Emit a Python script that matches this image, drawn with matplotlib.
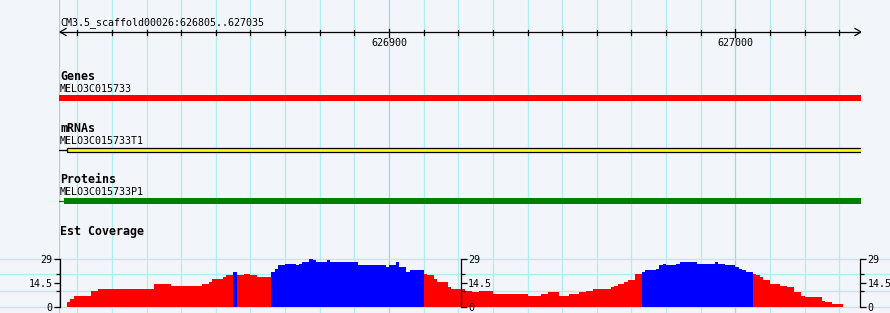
import numpy as np
import matplotlib
matplotlib.use('Agg')
import matplotlib.pyplot as plt
from matplotlib.lines import Line2D
from matplotlib.transforms import blended_transform_factory

ref_name = 'CM3.5_scaffold00026'
view_start = 626805
view_end = 627035
major_ticks = [626900, 627000]

gene_name = 'MELO3C015733'
gene_start, gene_end = 626700, 627100
mrna_name = 'MELO3C015733T1'
mrna_start, mrna_exon_start, mrna_end = 626700, 626807, 627100
protein_name = 'MELO3C015733P1'
protein_start, protein_cds_start, protein_end = 626700, 626806, 627100

# Est coverage: step starts (bp) and depth
cov_starts = [626807, 626808, 626809, 626814, 626816, 626832, 626837, 626846, 626848, 626849,
              626852, 626853, 626855, 626856, 626858, 626860, 626862, 626866, 626867, 626868,
              626870, 626873, 626874, 626875, 626877, 626878, 626879, 626882, 626883, 626891,
              626899, 626900, 626902, 626903, 626905, 626906, 626910, 626911, 626913, 626914,
              626917, 626918, 626922, 626924, 626926, 626930, 626940, 626944, 626946, 626949,
              626952, 626955, 626957, 626959, 626964, 626965, 626966, 626968, 626969, 626971,
              626973, 626974, 626977, 626978, 626979, 626980, 626983, 626984, 626989, 626994,
              626995, 626997, 627000, 627001, 627002, 627003, 627005, 627006, 627007, 627008,
              627010, 627013, 627015, 627017, 627019, 627020, 627025, 627026, 627028]
cov_values = [3, 5, 7, 10, 11, 14, 13, 14, 15, 17,
              18, 19, 21, 19, 20, 19, 18, 21, 23, 25,
              26, 25, 26, 27, 29, 28, 27, 28, 27, 25,
              24, 25, 27, 24, 21, 22, 20, 19, 17, 15,
              12, 11, 10, 9, 10, 8, 7, 8, 9, 7,
              8, 9, 10, 11, 12, 13, 14, 15, 16, 20,
              21, 22, 23, 25, 26, 25, 26, 27, 26, 27,
              26, 25, 24, 23, 22, 21, 20, 19, 18, 16,
              14, 13, 12, 9, 7, 6, 4, 3, 2]
cov_end = 627031
cov_max = 29
cov_ticks = [0, 14.5, 29]
cov_minor = [10, 20]

bg = '#f2f5fa'
grid_c = '#afeeee'
major_c = '#a4d4e8'
mono = 'DejaVu Sans Mono'
small = 7.2
bold = 8.4

W, H = 890, 313
fig = plt.figure(figsize=(W/100, H/100), dpi=100, facecolor=bg)

# main panel: x in bp, y in pixel rows
ax = fig.add_axes([59/W, 0, 802/W, 1])
ax.set_facecolor('none')
ax.set_xlim(view_start - 0.3, view_end + 1.3)
ax.set_ylim(H, 0)
ax.axis('off')
bp = 802 / (view_end + 1.6 - view_start)  # pixels per bp

ax.axvline(view_start - 0.3, color=major_c, lw=0.9, zorder=0)
for p in range(view_start + 5, view_end, 10):
  ax.axvline(p, color=major_c if p in major_ticks else grid_c, lw=0.9, zorder=0)

# ruler
x0, x1 = view_start, view_end + 1.3
a = 6 / bp
ax.plot([x0, x1], [32, 32], color='k', lw=0.9)
ax.plot([x0 + a, x0, x0 + a], [28.5, 32, 35.5], color='k', lw=0.9)
ax.plot([x1 - a, x1, x1 - a], [28.5, 32, 35.5], color='k', lw=0.9)
for p in range(view_start + 5, view_end, 10):
  if p in major_ticks:
    ax.plot([p, p], [28.5, 37], color='k', lw=0.9)
    ax.text(p, 45.7, str(p), ha='center', va='baseline', fontsize=small, family=mono)
  else:
    ax.plot([p, p], [30, 35], color='k', lw=0.9)
ax.text(view_start, 25.3, f'{ref_name}:{view_start}..{view_end}', va='baseline',
        fontsize=small, family=mono)

# tracks
ax.text(view_start, 80, 'Genes', va='baseline', fontsize=bold, family=mono, weight='bold')
ax.text(view_start, 92, gene_name, va='baseline', fontsize=small, family=mono)
ax.barh(98, gene_end - gene_start, left=gene_start, height=6, color='#ff0000', zorder=2)

ax.text(view_start, 132, 'mRNAs', va='baseline', fontsize=bold, family=mono, weight='bold')
ax.text(view_start, 144, mrna_name, va='baseline', fontsize=small, family=mono)
ax.plot([mrna_start, mrna_exon_start], [149.5, 149.5], color='k', lw=0.9, zorder=2)
ax.barh(149.5, mrna_end - mrna_exon_start, left=mrna_exon_start, height=4,
        color='#ffff00', edgecolor='k', lw=0.9, zorder=2)

ax.text(view_start, 183, 'Proteins', va='baseline', fontsize=bold, family=mono, weight='bold')
ax.text(view_start, 195, protein_name, va='baseline', fontsize=small, family=mono)
ax.plot([protein_start, protein_cds_start], [200.5, 200.5], color='#008000', lw=0.9, zorder=2)
ax.barh(201, protein_end - protein_cds_start, left=protein_cds_start, height=6,
        color='#008000', zorder=2)

ax.text(view_start, 235.3, 'Est Coverage', va='baseline', fontsize=bold, family=mono, weight='bold')

# coverage plot
cb, ch = (H - 307.3) / H, 48.6 / H
cax = fig.add_axes([59/W, cb, 802/W, ch])
cax.set_facecolor('none')
cax.set_xlim(ax.get_xlim())
cax.set_ylim(0, cov_max)
cax.axis('off')
tr = blended_transform_factory(fig.transFigure, cax.transData)
for v in [0] + cov_minor + [cov_max]:
  ln = Line2D([0, 1], [v, v], transform=tr, color=grid_c, lw=0.9, zorder=0, clip_on=False)
  cax.add_line(ln)
widths = np.diff(cov_starts + [cov_end])
colors = ['#0000ff' if v > 20 else '#ff0000' for v in cov_values]
cax.bar(cov_starts, cov_values, width=widths, align='edge', color=colors, lw=0, zorder=2)

def y_axis(xpix, side):
  ya = fig.add_axes([xpix / W, cb, 1e-4, ch])
  ya.set_facecolor('none')
  ya.set_ylim(0, cov_max)
  ya.set_xticks([])
  for s in ya.spines:
    ya.spines[s].set_visible(s == side)
  ya.spines[side].set_linewidth(0.9)
  ya.yaxis.set_ticks_position(side)
  ya.set_yticks(cov_ticks)
  ya.set_yticklabels(['0', '14.5', '29'], family=mono, fontsize=small)
  ya.set_yticks(cov_minor, minor=True)
  ya.tick_params(which='both', direction='out', width=0.9, pad=1.5)
  ya.tick_params(which='major', length=4)
  ya.tick_params(which='minor', length=3)

y_axis(60, 'left')
y_axis(460.5, 'right')
y_axis(860, 'right')

plt.savefig('out.png', dpi=100, facecolor=bg)
plt.close()
